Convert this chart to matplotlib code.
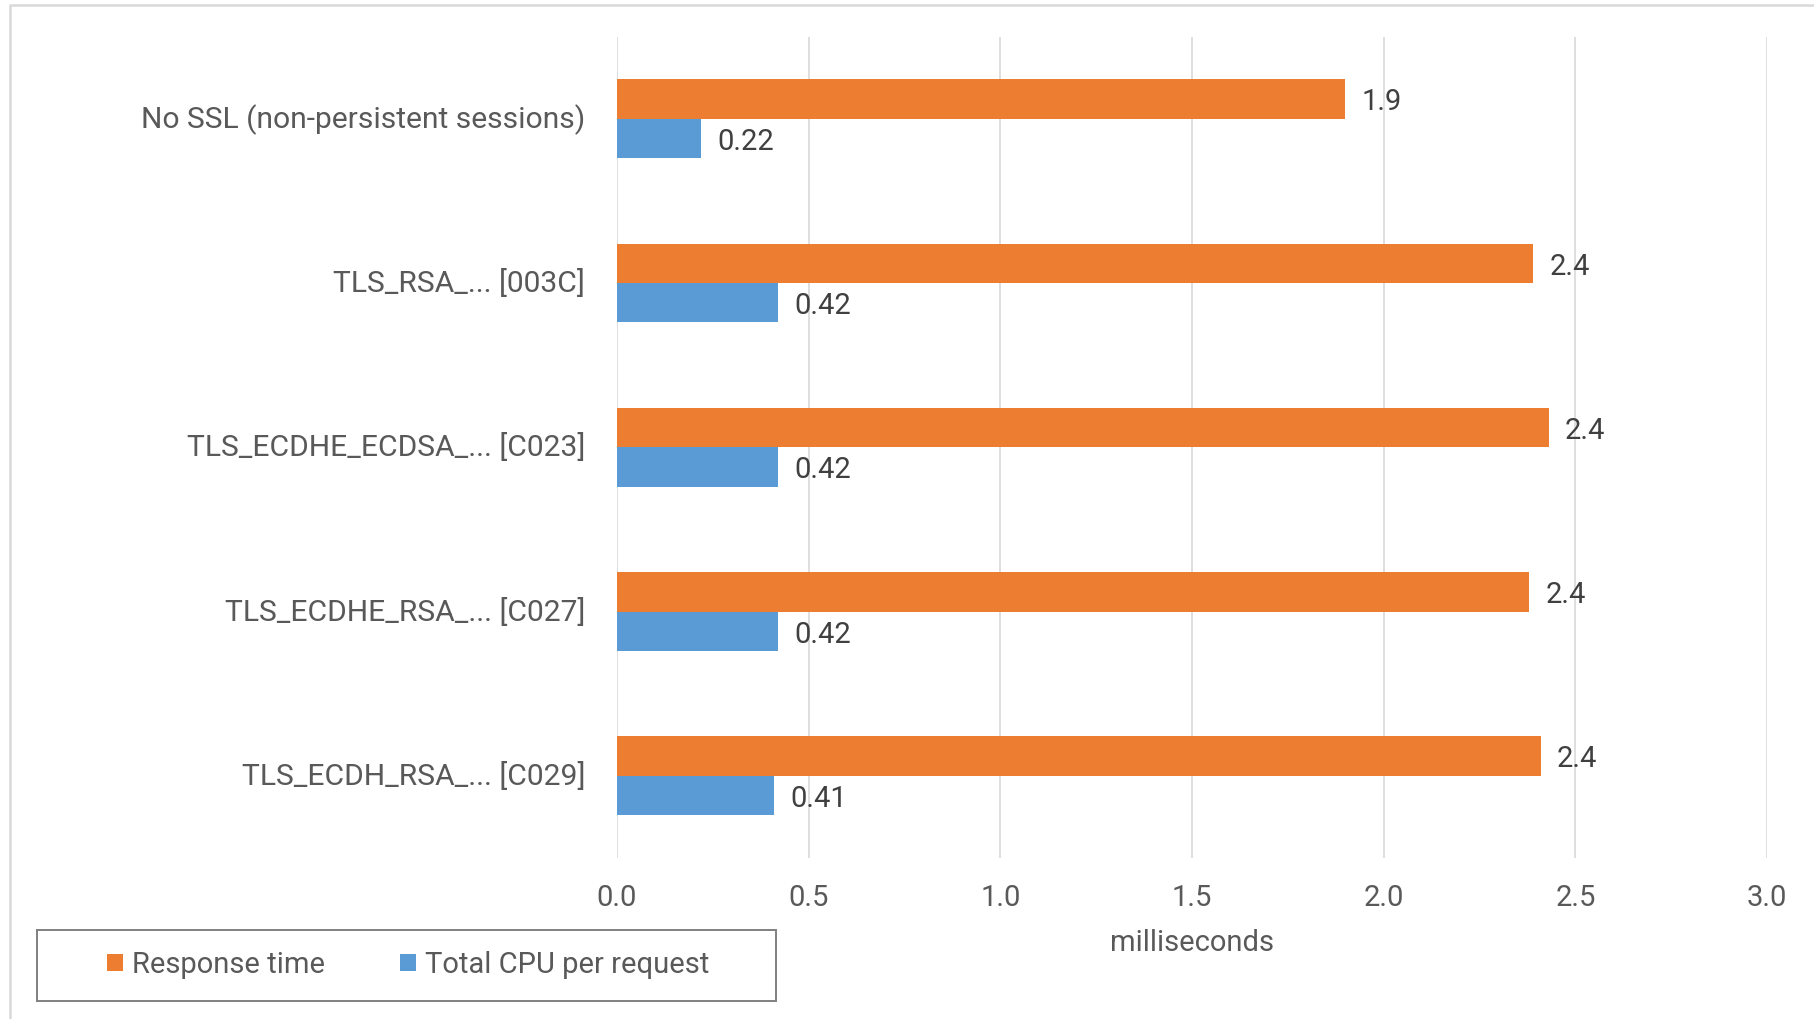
import matplotlib.pyplot as plt
from matplotlib.lines import Line2D
from matplotlib.patches import Patch, Rectangle
from matplotlib.transforms import ScaledTranslation

# cipher suites, top to bottom
suites = [
    "No SSL (non-persistent sessions)",
    "TLS_RSA_... [003C]",
    "TLS_ECDHE_ECDSA_... [C023]",
    "TLS_ECDHE_RSA_... [C027]",
    "TLS_ECDH_RSA_... [C029]",
]
response_ms = [1.9, 2.39, 2.43, 2.38, 2.41]
cpu_ms = [0.22, 0.42, 0.42, 0.42, 0.41]
x_ticks = [0.0, 0.5, 1.0, 1.5, 2.0, 2.5, 3.0]

ORANGE = "#ED7D31"
BLUE = "#5B9BD5"
GRAY_TXT = "#595959"
DARK_TXT = "#404040"
GRID = "#D9D9D9"

plt.rcParams["font.family"] = ["Roboto", "DejaVu Sans"]
FS = 21

W, H = 1814, 1019
fig = plt.figure(figsize=(W / 100, H / 100), dpi=100)

# axes placed in pixel terms
left, right, top, bottom = 617, 1767, 36.5, 858
ax = fig.add_axes([left / W, 1 - bottom / H, (right - left) / W, (bottom - top) / H])

bar_h = 0.24
ypos = list(range(len(suites)))
ax.barh([y - bar_h / 2 for y in ypos], response_ms, height=bar_h, color=ORANGE,
        label="Response time", zorder=3)
ax.barh([y + bar_h / 2 for y in ypos], cpu_ms, height=bar_h, color=BLUE,
        label="Total CPU per request", zorder=3)

# value labels at bar ends
px_per_unit = (right - left) / 3.0
off = 16 / px_per_unit
dy = 0.02
for y, v in zip(ypos, response_ms):
    ax.text(v + off, y - bar_h / 2 + dy, "%.2g" % v, va="center", ha="left",
            fontsize=FS, color=DARK_TXT)
for y, v in zip(ypos, cpu_ms):
    ax.text(v + off, y + bar_h / 2 + dy, "%.2g" % v, va="center", ha="left",
            fontsize=FS, color=DARK_TXT)

ax.set_xlim(0, 3.0)
ax.set_ylim(len(suites) - 0.5, -0.5)
ax.set_xticks(x_ticks)
ax.set_xticklabels(["%.1f" % t for t in x_ticks])
ax.set_yticks(ypos)
ax.set_yticklabels(suites)
ax.tick_params(axis="x", length=0, pad=19, labelsize=FS, labelcolor=GRAY_TXT)
ax.tick_params(axis="y", length=0, pad=23, labelsize=21.6, labelcolor=GRAY_TXT)
nudge = ScaledTranslation(0, 1.7 / 72, fig.dpi_scale_trans)
for lab in ax.get_yticklabels():
    lab.set_transform(lab.get_transform() + nudge)
for s in ax.spines.values():
    s.set_visible(False)
ax.grid(axis="x", color=GRID, linewidth=1.2, zorder=0)
ax.set_axisbelow(True)

ax.set_xlabel("milliseconds", fontsize=FS, color=GRAY_TXT, va="center")
ax.xaxis.set_label_coords(0.5, -(943 - bottom) / (bottom - top))

# legend with a square frame
handles = [Patch(facecolor=ORANGE, label="Response time"),
           Patch(facecolor=BLUE, label="Total CPU per request")]
leg = fig.legend(handles=handles, loc="center left", ncol=2, frameon=False,
                 bbox_to_anchor=(107 / W, 1 - 965 / H), borderpad=0, borderaxespad=0,
                 handlelength=0.55, handleheight=0.55, handletextpad=0.3,
                 columnspacing=2.58, fontsize=FS, labelcolor=GRAY_TXT)
fig.patches.append(Rectangle((37 / W, 1 - 1001 / H), (776 - 37) / W, (1001 - 930) / H,
                             transform=fig.transFigure, fill=False,
                             edgecolor="#808080", linewidth=1.4))

# outer chart border (top and left edges)
fig.lines.append(Line2D([10 / W, 10 / W, 1], [0, 1 - 5 / H, 1 - 5 / H],
                        transform=fig.transFigure, color=GRID, linewidth=1.8))

fig.savefig("out.png", dpi=100, facecolor="white")
